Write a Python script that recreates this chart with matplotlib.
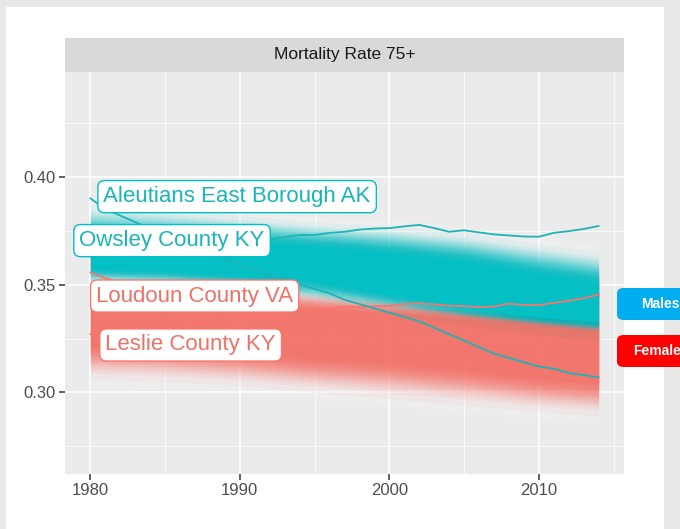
import numpy as np
import matplotlib
matplotlib.use("Agg")
import matplotlib.pyplot as plt
from matplotlib.patches import Rectangle, FancyBboxPatch

plt.rcParams['font.family'] = ['Liberation Sans', 'DejaVu Sans']

# ---- data -------------------------------------------------------------
years = list(range(1980, 2015))

aleutians = [0.390, 0.385, 0.382, 0.379, 0.376, 0.373, 0.370, 0.367, 0.364, 0.362,
             0.359, 0.357, 0.354, 0.352, 0.350, 0.348, 0.346, 0.343, 0.341, 0.339,
             0.337, 0.335, 0.333, 0.330, 0.327, 0.324, 0.321, 0.318, 0.316, 0.314,
             0.312, 0.311, 0.309, 0.308, 0.307]
owsley = [0.366, 0.366, 0.367, 0.367, 0.368, 0.368, 0.369, 0.369, 0.370, 0.370,
          0.370, 0.371, 0.371, 0.372, 0.373, 0.373, 0.374, 0.3745, 0.3755, 0.376,
          0.3762, 0.377, 0.3777, 0.3762, 0.3745, 0.3752, 0.3742, 0.3733, 0.3728, 0.3723,
          0.3722, 0.374, 0.3748, 0.3758, 0.3772]
loudoun = [0.3556, 0.353, 0.351, 0.349, 0.347, 0.345, 0.344, 0.342, 0.341, 0.339,
           0.338, 0.336, 0.335, 0.333, 0.332, 0.330, 0.329, 0.327, 0.326, 0.325,
           0.323, 0.322, 0.320, 0.319, 0.318, 0.316, 0.315, 0.314, 0.312, 0.311,
           0.310, 0.309, 0.307, 0.306, 0.3047]
leslie = [0.327, 0.327, 0.328, 0.328, 0.329, 0.330, 0.331, 0.332, 0.333, 0.334,
          0.335, 0.336, 0.337, 0.338, 0.338, 0.339, 0.339, 0.3397, 0.3397, 0.340,
          0.3401, 0.341, 0.3413, 0.3408, 0.3402, 0.340, 0.3396, 0.3398, 0.3412, 0.3405,
          0.3405, 0.3415, 0.3425, 0.3437, 0.3454]

# spread of all counties (quantile envelopes) at anchor years
band_years = [1980, 1985, 1990, 1995, 2000, 2005, 2010, 2014]
male_outer_hi = [0.387, 0.385, 0.382, 0.379, 0.377, 0.374, 0.369, 0.365]
male_core_hi = [0.371, 0.370, 0.369, 0.367, 0.364, 0.360, 0.354, 0.350]
male_core_lo = [0.358, 0.357, 0.355, 0.352, 0.346, 0.340, 0.335, 0.333]
male_outer_lo = [0.350, 0.349, 0.346, 0.342, 0.337, 0.331, 0.327, 0.324]

female_outer_hi = [0.352, 0.351, 0.349, 0.347, 0.344, 0.341, 0.338, 0.336]
female_core_hi = [0.344, 0.343, 0.341, 0.338, 0.336, 0.333, 0.330, 0.327]
female_core_lo = [0.323, 0.322, 0.320, 0.317, 0.315, 0.312, 0.308, 0.306]
female_outer_lo = [0.306, 0.305, 0.303, 0.300, 0.297, 0.294, 0.291, 0.289]

x_ticks = [1980, 1990, 2000, 2010]
y_ticks = [0.30, 0.35, 0.40]

label_names = ["Aleutians East Borough AK", "Owsley County KY",
               "Loudoun County VA", "Leslie County KY"]
label_x = [1980.87, 1979.26, 1980.38, 1981.0]
label_y = [0.3908, 0.3704, 0.3447, 0.3220]

TEAL = "#00BFC4"
SALMON = "#F8766D"

# ---- figure -----------------------------------------------------------
W, H = 680, 529
fig = plt.figure(figsize=(W / 100, H / 100), dpi=100, facecolor="#e8e8e6")
fig.patches.append(Rectangle((6 / W, 0), (664 - 6) / W, (H - 7) / H,
                             transform=fig.transFigure, fc="white", ec="none", zorder=-5))

px_l, px_r, px_t, px_b = 65, 624, 72, 473.5
ax = fig.add_axes([px_l / W, (H - px_b) / H, (px_r - px_l) / W, (px_b - px_t) / H])
ax.set_zorder(1)
ax.set_facecolor("#ebebeb")
ax.set_xlim(1978.3, 2015.7)
ax.set_ylim(0.2624, 0.4486)
for s in ax.spines.values():
    s.set_visible(False)

ax.set_xticks(x_ticks)
ax.set_yticks(y_ticks)
ax.set_yticklabels([f"{v:.2f}" for v in y_ticks])
ax.set_xticks([1985, 1995, 2005, 2015], minor=True)
ax.set_yticks([0.275, 0.325, 0.375, 0.425], minor=True)
ax.tick_params(which="major", length=4, width=1.1, color="#333333",
               labelsize=12, labelcolor="#4d4d4d", pad=3)
ax.tick_params(which="minor", length=0)
ax.grid(which="major", color="white", lw=1.1)
ax.grid(which="minor", color="white", lw=0.55)
ax.set_axisbelow(True)

# county envelopes, built up from translucent layers
by = np.array(band_years, dtype=float)
groups = [
    (np.array(female_outer_lo), np.array(female_core_lo),
     np.array(female_core_hi), np.array(female_outer_hi), SALMON),
    (np.array(male_outer_lo), np.array(male_core_lo),
     np.array(male_core_hi), np.array(male_outer_hi), TEAL),
]

# pale halo around each envelope
n_halo = 12
for i in range(n_halo):
    t = i / (n_halo - 1)
    for o_lo, c_lo, c_hi, o_hi, _ in groups:
        lo = (o_lo - 0.004) + (c_lo - o_lo + 0.004) * t
        hi = (o_hi + 0.004) + (c_hi - o_hi - 0.004) * t
        ax.fill_between(by, lo, hi, color="white", alpha=0.07, lw=0, zorder=1.5)

# layers crowd towards the core so density fades out gently at the edges
n_layers = 50
for i in range(n_layers):
    t = np.sqrt(i / (n_layers - 1))
    for o_lo, c_lo, c_hi, o_hi, col in groups:
        lo = o_lo + (c_lo - o_lo) * t
        hi = o_hi + (c_hi - o_hi) * t
        ax.fill_between(by, lo, hi, color=col, alpha=0.06, lw=0, zorder=2)

# highlighted counties
ax.plot(years, leslie, color=SALMON, lw=1.3, zorder=4)
ax.plot(years, loudoun, color=SALMON, lw=1.3, zorder=4)
ax.plot(years, owsley, color="#1fb3b6", lw=1.3, zorder=4)
ax.plot(years, aleutians, color="#1fb3b6", lw=1.3, zorder=4)

label_cols = ["#19b5b8", "#19b5b8", "#ee7169", "#ee7169"]
edge_cols = [TEAL, TEAL, SALMON, SALMON]
for name, lx, ly, c, ec in zip(label_names, label_x, label_y, label_cols, edge_cols):
    ax.text(lx, ly, name, ha="left", va="center", fontsize=16, color=c, zorder=6,
            bbox=dict(boxstyle="round,pad=0.25,rounding_size=0.3", fc="white",
                      ec=ec, lw=1.0))

# facet strip
fig.patches.append(Rectangle((px_l / W, (H - px_t) / H), (px_r - px_l) / W, 34 / H,
                             transform=fig.transFigure, fc="#d9d9d9", ec="none", zorder=-1))
fig.text((px_l + px_r) / 2 / W, (H - 55) / H, "Mortality Rate 75+", ha="center",
         va="center", fontsize=12.5, color="#1a1a1a")

# sex buttons at the right edge
for y0, col, txt, tx in [(288, "#00AEEF", "Males", 641), (335, "#FF0000", "Females", 633)]:
    fig.patches.append(FancyBboxPatch((617 / W, (H - y0 - 32) / H), 80 / W, 32 / H,
                                      boxstyle="round,pad=0,rounding_size=0.01",
                                      transform=fig.transFigure, fc=col, ec="none",
                                      zorder=5))
    fig.text(tx / W, (H - y0 - 16) / H, txt, ha="left", va="center", fontsize=10,
             fontweight="bold", color="white", zorder=6)

fig.savefig("out.png", dpi=100, facecolor=fig.get_facecolor())
